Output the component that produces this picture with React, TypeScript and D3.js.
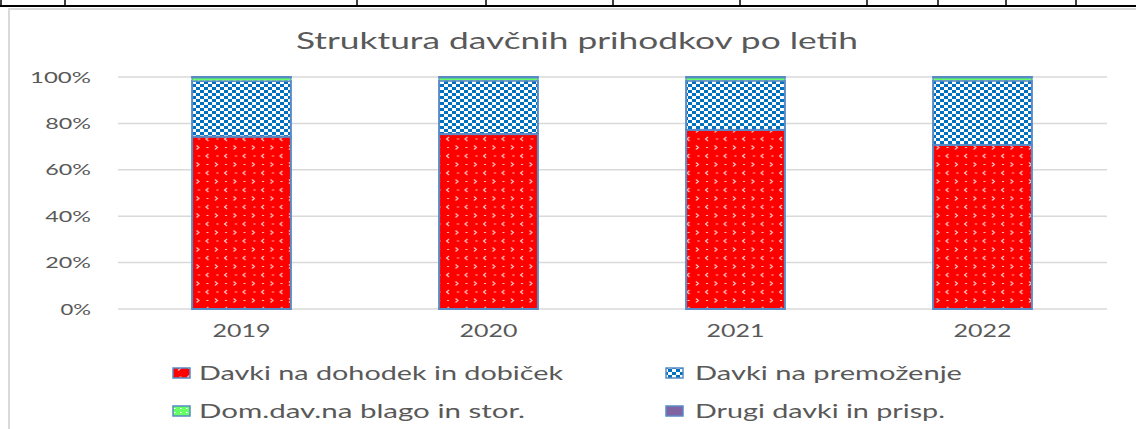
import React from "react";
import * as d3 from "d3";

const years = ["2019", "2020", "2021", "2022"];
const seriesNames = [
  "Davki na dohodek in dobiček",
  "Davki na premoženje",
  "Dom.dav.na blago in stor.",
  "Drugi davki in prisp.",
];
const dohodek = [74.3, 75.4, 77.2, 70.7];
const premozenje = [24.0, 23.0, 21.2, 27.7];
const blago = [1.5, 1.4, 1.4, 1.4];
const drugi = [0.2, 0.2, 0.2, 0.2];
const yTicks = [0, 0.2, 0.4, 0.6, 0.8, 1.0];
const tickLabels = ["0%", "20%", "40%", "60%", "80%", "100%"];
const tableLines = [1, 65, 357, 486, 613, 740, 867, 938, 1006, 1076];

const fills = ["url(#pRed)", "url(#pBlue)", "url(#pGreen)", "#8064A2"];
const keys = ["a", "b", "c", "d"];

export default function App() {
  const W = 1136, H = 429;
  const x = d3.scaleBand().domain(years).range([118, 1106]).paddingInner(0.6).paddingOuter(0.3);
  const y = d3.scaleLinear().domain([0, 1]).range([309, 77]);
  const rows = years.map((yr, i) => {
    const tot = dohodek[i] + premozenje[i] + blago[i] + drugi[i];
    return { year: yr, a: dohodek[i] / tot, b: premozenje[i] / tot, c: blago[i] / tot, d: drugi[i] / tot };
  });
  const stacked = d3.stack<any>().keys(keys)(rows);
  const textColor = "#595959";
  const font = "Lato, 'Open Sans', sans-serif";
  const edge = "#5A8AC6";

  const legend = [
    { i: 0, sx: 173, tx: 199, y: 373, w: 364 },
    { i: 1, sx: 666, tx: 695, y: 373, w: 267 },
    { i: 2, sx: 173, tx: 199, y: 411, w: 326 },
    { i: 3, sx: 666, tx: 695, y: 411, w: 250 },
  ];

  return (
    <svg width={W} height={H} style={{ position: "absolute", left: 0, top: 0, background: "#fff" }}>
      <defs>
        <pattern id="pRed" patternUnits="userSpaceOnUse" width="18.5" height="17">
          <rect width="18.5" height="17" fill="#FF0000" />
          <path d="M5,1 L2.5,3 L5,5" stroke="#fff" strokeWidth="1" fill="none" opacity="0.85" />
          <path d="M11.5,9.5 L14,11.5 L11.5,13.5" stroke="#fff" strokeWidth="1" fill="none" opacity="0.85" />
          <rect x="13" y="2.5" width="2" height="1" fill="#fff" opacity="0.8" />
          <rect x="3" y="11" width="2" height="1" fill="#fff" opacity="0.8" />
        </pattern>
        <pattern id="pBlue" patternUnits="userSpaceOnUse" width="8" height="6">
          <rect width="8" height="6" fill="#fff" />
          <rect x="0" y="0" width="4" height="3" fill="#0070C0" />
          <rect x="4" y="3" width="4" height="3" fill="#0070C0" />
        </pattern>
        <pattern id="pGreen" patternUnits="userSpaceOnUse" width="6" height="4">
          <rect width="6" height="4" fill="#66FF66" />
          <rect x="0" y="0" width="1.5" height="1" fill="#fff" />
        </pattern>
      </defs>

      {/* table fragment at top */}
      <line x1={0} x2={W} y1={6} y2={6} stroke="#000" strokeWidth={2} />
      {tableLines.map((lx) => (
        <line key={lx} x1={lx} x2={lx} y1={0} y2={6} stroke="#000" strokeWidth={1.5} />
      ))}

      {/* chart border */}
      <rect x={9} y={9} width={W + 20} height={H + 20} fill="#fff" stroke="#d9d9d9" strokeWidth={2} />

      <text x={577} y={49} textAnchor="middle" fontFamily={font} fontSize={24} fill={textColor}
        textLength={562} lengthAdjust="spacingAndGlyphs">
        Struktura davčnih prihodkov po letih
      </text>

      {yTicks.map((t, i) => (
        <g key={t}>
          <line x1={118} x2={1107} y1={y(t)} y2={y(t)} stroke="#d9d9d9" strokeWidth={1.5} />
          <text x={91} y={y(t) + 5.5} textAnchor="end" fontFamily={font} fontSize={16} fill={textColor}
            textLength={tickLabels[i].length * 15.25} lengthAdjust="spacingAndGlyphs">
            {tickLabels[i]}
          </text>
        </g>
      ))}

      {stacked.map((s, si) => (
        <g key={si}>
          {s.map((d: any, di: number) => (
            <rect key={di} x={x(d.data.year)!} width={x.bandwidth()} y={y(d[1])} height={y(d[0]) - y(d[1])}
              fill={fills[si]} stroke={edge} strokeWidth={si === 2 ? 1 : 2} />
          ))}
        </g>
      ))}

      {years.map((yr) => (
        <text key={yr} x={x(yr)! + x.bandwidth() / 2} y={337} textAnchor="middle" fontFamily={font} fontSize={17}
          fill={textColor} textLength={58} lengthAdjust="spacingAndGlyphs">
          {yr}
        </text>
      ))}

      {legend.map((l) => (
        <g key={l.i}>
          <rect x={l.sx} y={l.y - 5} width={17} height={10} fill={fills[l.i]} stroke={edge} strokeWidth={1.5} />
          <text x={l.tx} y={l.y + 7} fontFamily={font} fontSize={20} fill={textColor}
            textLength={l.w} lengthAdjust="spacingAndGlyphs">
            {seriesNames[l.i]}
          </text>
        </g>
      ))}
    </svg>
  );
}
